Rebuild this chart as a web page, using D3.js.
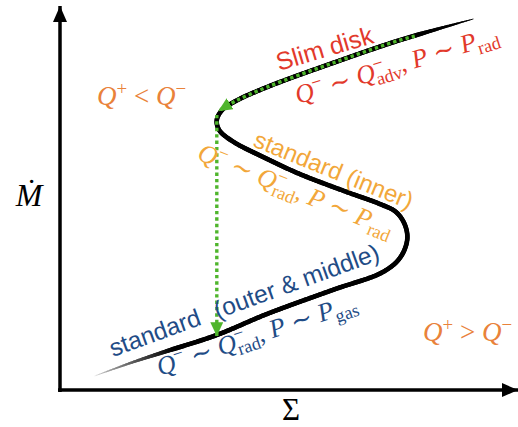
<!DOCTYPE html>
<html>
<head>
<meta charset="utf-8">
<script src="https://cdn.jsdelivr.net/npm/d3@7"></script>
<style>
  html, body { margin: 0; padding: 0; background: #fff; }
  svg { display: block; }
</style>
</head>
<body>
<svg id="chart" width="518" height="427"></svg>
<script>
// Thermal-equilibrium S-curve in the (Σ, Ṁ) plane, arbitrary units 0–100.
const curveSigma = [7.8, 16.3, 23.9, 35.0, 46.2, 60.9, 72.1, 75.9, 77.5, 77.0, 75.0, 71.4, 64.1, 53.6, 46.2, 38.4, 35.5, 35.0, 36.2, 39.3, 46.2, 60.9, 75.9, 92.2];
const curveMdot  = [3.7, 7.3, 10.2, 14.4, 19.9, 26.2, 30.9, 34.6, 39.3, 43.2, 46.6, 48.7, 51.8, 56.5, 60.5, 65.2, 68.1, 70.7, 73.3, 75.7, 79.3, 85.6, 91.6, 97.1];

// Limit-cycle track: slide down the slim branch, then drop to the stable lower branch.
const trackSigma = [79.2, 75.9, 60.9, 46.2, 39.3, 35.3];
const trackMdot  = [92.6, 91.6, 85.6, 79.3, 75.7, 73.0];
const dropSigma = [35.0, 35.0];
const dropMdot  = [72.0, 14.1];

const svg = d3.select('#chart');
const x = d3.scaleLinear().domain([0, 100]).range([60, 508]);
const y = d3.scaleLinear().domain([0, 100]).range([390, 8]);

const GREEN = '#4fb52c';
const serif = "'Liberation Serif', 'DejaVu Serif', serif";
const sans = "'Liberation Sans', Arial, sans-serif";

const defs = svg.append('defs');
function arrowMarker(id, color, len, wid) {
  defs.append('marker')
    .attr('id', id).attr('viewBox', `0 0 ${len} ${wid}`)
    .attr('refX', len).attr('refY', wid / 2)
    .attr('markerWidth', len).attr('markerHeight', wid)
    .attr('markerUnits', 'userSpaceOnUse').attr('orient', 'auto')
    .append('path').attr('d', `M0,0L${len},${wid / 2}L0,${wid}Z`).attr('fill', color);
}
arrowMarker('axisHead', '#000', 16, 14);
arrowMarker('greenHead', GREEN, 14, 13);

// Axes (arrows, no ticks)
svg.append('line')
  .attr('x1', x(0)).attr('y1', y(0) + 2).attr('x2', x(0)).attr('y2', 6)
  .attr('stroke', '#000').attr('stroke-width', 3.5).attr('marker-end', 'url(#axisHead)');
svg.append('line')
  .attr('x1', x(0) - 2).attr('y1', y(0)).attr('x2', 518).attr('y2', y(0))
  .attr('stroke', '#000').attr('stroke-width', 3.5).attr('marker-end', 'url(#axisHead)');

svg.append('text').attr('x', 29).attr('y', 206)
  .attr('font-family', serif).attr('font-style', 'italic').attr('font-size', 32)
  .attr('text-anchor', 'middle').text('Ṁ');
svg.append('text').attr('x', 291).attr('y', 420)
  .attr('font-family', serif).attr('font-size', 31)
  .attr('text-anchor', 'middle').text('Σ');

// S-curve, tapered at both ends
const pts = curveSigma.map((s, i) => [x(s), y(curveMdot[i])]);
const line = d3.line().curve(d3.curveCatmullRom.alpha(0.5));
const guide = svg.append('path').attr('d', line(pts)).attr('fill', 'none').attr('stroke', 'none');
const node = guide.node();
const L = node.getTotalLength();
const N = 500;
const samples = d3.range(N + 1).map(i => node.getPointAtLength(L * i / N));
const curveG = svg.append('g').attr('stroke-linecap', 'round');
const lowTaper = 85, highTaper = 60, W = 4.6;
for (let i = 0; i < N; i++) {
  const s = L * (i + 0.5) / N;
  let w = W, col = '#000';
  if (s < lowTaper) {
    const f = s / lowTaper;
    w = 0.6 + (W - 0.6) * f;
    col = d3.interpolateRgb('#e8e8e8', '#000')(Math.pow(f, 0.7));
  } else if (L - s < highTaper) {
    const f = (L - s) / highTaper;
    w = 0.8 + (W - 0.8) * f;
  }
  curveG.append('line')
    .attr('x1', samples[i].x).attr('y1', samples[i].y)
    .attr('x2', samples[i + 1].x).attr('y2', samples[i + 1].y)
    .attr('stroke', col).attr('stroke-width', w);
}

// Green dotted limit-cycle path
svg.append('path')
  .attr('d', line(trackSigma.map((s, i) => [x(s), y(trackMdot[i])])))
  .attr('fill', 'none').attr('stroke', GREEN).attr('stroke-width', 3.4)
  .attr('stroke-dasharray', '3.4,3').attr('marker-end', 'url(#greenHead)');
svg.append('path')
  .attr('d', d3.line()(dropSigma.map((s, i) => [x(s), y(dropMdot[i])])))
  .attr('fill', 'none').attr('stroke', GREEN).attr('stroke-width', 3.4)
  .attr('stroke-dasharray', '3.4,3').attr('marker-end', 'url(#greenHead)');

// Text helpers
function mathText(px, py, angle, size, color, parts) {
  const t = svg.append('text')
    .attr('transform', `translate(${px},${py}) rotate(${angle})`)
    .attr('font-family', serif).attr('font-size', size).attr('fill', color);
  let shift = 0;
  parts.forEach(p => {
    let target = 0, fs = size, style = 'normal';
    if (p.k === 'i') style = 'italic';
    if (p.k === 'sup') { target = -0.38 * size; fs = 0.7 * size; }
    if (p.k === 'sub') { target = 0.22 * size; fs = 0.7 * size; }
    const ts = t.append('tspan')
      .attr('dy', target - shift).attr('font-size', fs).attr('font-style', style).text(p.t);
    if (p.dx) ts.attr('dx', p.dx * size);
    shift = target;
  });
  return t;
}
function sansText(px, py, angle, size, color, chunks) {
  const t = svg.append('text')
    .attr('transform', `translate(${px},${py}) rotate(${angle})`)
    .attr('font-family', sans).attr('font-size', size).attr('fill', color);
  chunks.forEach(c => {
    const ts = t.append('tspan').text(c.t);
    if (c.dx) ts.attr('dx', c.dx);
  });
}

const RED = '#e2392b', ORANGE = '#e9823a', AMBER = '#f2a73a', BLUE = '#1f4c86';

mathText(97, 105, 0, 27, ORANGE, [
  { t: 'Q', k: 'i' }, { t: '+', k: 'sup' }, { t: ' < ', k: 'r' }, { t: 'Q', k: 'i' }, { t: '−', k: 'sup' }
]);
mathText(423, 341, 0, 27, ORANGE, [
  { t: 'Q', k: 'i' }, { t: '+', k: 'sup' }, { t: ' > ', k: 'r' }, { t: 'Q', k: 'i' }, { t: '−', k: 'sup' }
]);

sansText(279, 71, -16.5, 25, RED, [{ t: 'Slim disk' }]);
mathText(298, 104, -17, 26, RED, [
  { t: 'Q', k: 'i' }, { t: '−', k: 'sup' }, { t: ' ∼ ', k: 'r' }, { t: 'Q', k: 'i' }, { t: '−', k: 'sup' },
  { t: 'adv', k: 'sub', dx: -0.4 }, { t: ', ', k: 'r' }, { t: 'P', k: 'i' }, { t: ' ∼ ', k: 'r' },
  { t: 'P', k: 'i' }, { t: 'rad', k: 'sub' }
]);

sansText(252, 146, 22, 24, AMBER, [{ t: 'standard (inner)' }]);
mathText(196, 159, 22, 26, AMBER, [
  { t: 'Q', k: 'i' }, { t: '−', k: 'sup' }, { t: ' ∼ ', k: 'r' }, { t: 'Q', k: 'i' }, { t: '−', k: 'sup' },
  { t: 'rad', k: 'sub', dx: -0.4 }, { t: ', ', k: 'r' }, { t: 'P', k: 'i' }, { t: ' ∼ ', k: 'r' },
  { t: 'P', k: 'i' }, { t: 'rad', k: 'sub' }
]);

sansText(113, 357, -20, 24.5, BLUE, [{ t: 'standard ' }, { t: '(outer & middle)', dx: 9 }]);
mathText(160, 376, -18.5, 26, BLUE, [
  { t: 'Q', k: 'i' }, { t: '−', k: 'sup' }, { t: ' ∼ ', k: 'r' }, { t: 'Q', k: 'i' }, { t: '−', k: 'sup' },
  { t: 'rad', k: 'sub', dx: -0.4 }, { t: ', ', k: 'r' }, { t: 'P', k: 'i' }, { t: ' ∼ ', k: 'r' },
  { t: 'P', k: 'i' }, { t: 'gas', k: 'sub' }
]);
</script>
</body>
</html>
